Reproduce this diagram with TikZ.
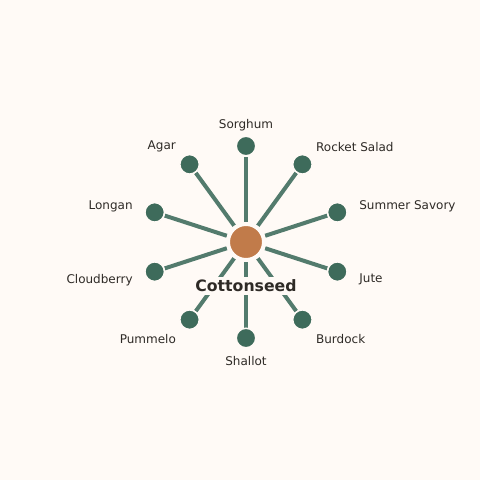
\documentclass[tikz,border=0pt]{standalone}
\usepackage{fontspec}
\setmainfont{DejaVu Sans}
\usetikzlibrary{backgrounds}

\definecolor{paper}{HTML}{FFFAF6}
\definecolor{hubfill}{HTML}{C17B4A}
\definecolor{leaffill}{HTML}{3E6B5B}
\definecolor{spokecol}{HTML}{537B6D}
\definecolor{ink}{HTML}{2E2A26}

\tikzset{
  hub/.style={circle, fill=hubfill, draw=paper, line width=4pt, minimum size=36pt, inner sep=0pt},
  leaf/.style={circle, fill=leaffill, draw=paper, line width=1.5pt, minimum size=19.5pt, inner sep=0pt},
  spoke/.style={draw=spokecol, line width=4pt},
  tag/.style={text=ink, font=\fontsize{12}{14}\selectfont, inner sep=0pt, yshift=-1pt},
  hubtag/.style={text=ink, fill=paper, inner sep=3pt, font=\bfseries\fontsize{15.7}{18}\selectfont},
}

\begin{document}
\begin{tikzpicture}[x=1pt,y=1pt]
        \useasboundingbox (-246,-238) rectangle (234,242);

        \node [hub] (cotton) at (0,0) {};
        \node [hubtag] (cottonlbl) at (0,-44) {Cottonseed};

        \node [leaf] (sorghum) at (90:96) {};
        \node [tag] (sorghumlbl) at (90:118) {Sorghum};

        \node [leaf] (rocket) at (54:96) {};
        \node [tag, anchor=west] (rocketlbl) at (54:119) {Rocket Salad};

        \node [leaf] (savory) at (18:96) {};
        \node [tag, anchor=west] (savorylbl) at (18:119) {Summer Savory};

        \node [leaf] (jute) at (-18:96) {};
        \node [tag, anchor=west] (jutelbl) at (-18:119) {Jute};

        \node [leaf] (burdock) at (-54:96) {};
        \node [tag, anchor=west] (burdocklbl) at (-54:119) {Burdock};

        \node [leaf] (shallot) at (-90:96) {};
        \node [tag] (shallotlbl) at (-90:118) {Shallot};

        \node [leaf] (pummelo) at (-126:96) {};
        \node [tag, anchor=east] (pummelolbl) at (-126:119) {Pummelo};

        \node [leaf] (cloudberry) at (-162:96) {};
        \node [tag, anchor=east] (cloudberrylbl) at (-162:119) {Cloudberry};

        \node [leaf] (longan) at (162:96) {};
        \node [tag, anchor=east] (longanlbl) at (162:119) {Longan};

        \node [leaf] (agar) at (126:96) {};
        \node [tag, anchor=east] (agarlbl) at (126:119) {Agar};

        \begin{scope}[on background layer]
          \fill [paper] (-246,-238) rectangle (234,242);

          \draw [spoke] (cotton) -- (sorghum);
          \draw [spoke] (cotton) -- (rocket);
          \draw [spoke] (cotton) -- (savory);
          \draw [spoke] (cotton) -- (jute);
          \draw [spoke] (cotton) -- (burdock);
          \draw [spoke] (cotton) -- (shallot);
          \draw [spoke] (cotton) -- (pummelo);
          \draw [spoke] (cotton) -- (cloudberry);
          \draw [spoke] (cotton) -- (longan);
          \draw [spoke] (cotton) -- (agar);
        \end{scope}
      \end{tikzpicture}
\end{document}
